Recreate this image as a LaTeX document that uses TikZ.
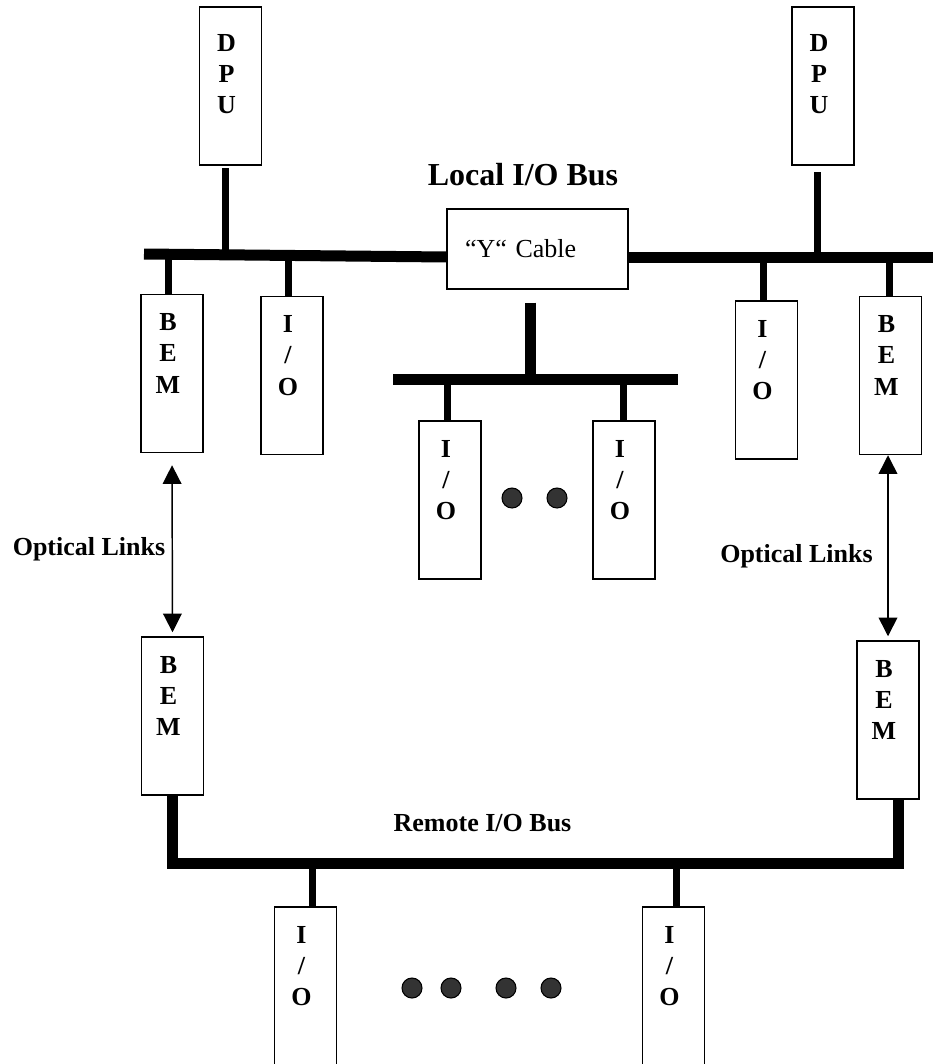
\documentclass[tikz,border=0pt]{standalone}
\usepackage{fontspec}
\setmainfont{Liberation Serif}
\usepackage{tikz}
\usetikzlibrary{arrows.meta, positioning, calc}

\begin{document}
\begin{tikzpicture}[
  x=0.75pt, y=-0.75pt,
  >={Triangle[length=14pt, width=14pt]},
  unit/.style    = {draw, line width=1.1pt, minimum width=46.5pt,
                    minimum height=118.5pt, inner sep=0pt},
  letters/.style = {font=\bfseries\fontsize{19.5}{23.5}\selectfont,
                    align=center, inner sep=0pt, anchor=north, xshift=-3pt},
  cable/.style   = {draw, line width=1.1pt, minimum height=60pt,
                    text width=108.75pt, inner xsep=13.5pt, align=left,
                    font=\fontsize{19.5}{23.5}\selectfont},
  title/.style   = {font=\bfseries\fontsize{24}{28}\selectfont},
  note/.style    = {font=\bfseries\fontsize{19.5}{23.5}\selectfont},
  bus/.style     = {line width=8.25pt},
  stub/.style    = {line width=5.25pt},
  link/.style    = {<->, line width=1.1pt},
  dot/.style     = {draw=black, fill=black!80, line width=0.8pt}
]
\useasboundingbox (0,0) rectangle (933,1064);

% processors and the "Y" cable
\node[unit, label={[letters, yshift=-20.6pt]north:{D\\P\\U}}] (dpuL) at (230.5,86) {};
\node[unit, label={[letters, yshift=-20.6pt]north:{D\\P\\U}}] (dpuR) at (823,86) {};
\node[cable] (ycable) at (537.5,249) {``Y`` Cable};
\node[title] (localbus) at (523,175) {Local I/O Bus};

\coordinate (lbusW) at (144,254);
\coordinate (lbusE) at (447,257);
\coordinate (rbusE) at (933,257.5);
\coordinate (mbusW) at (393,379);
\coordinate (mbusE) at (678,379);

% local modules
\node[unit, label={[letters, yshift=-14.6pt]north:{B\\E\\M}}] (bemUL) at (172,373.5) {};
\node[unit, label={[letters, yshift=-14.6pt]north:{I\\/\\O}}] (ioUL) at (292,375.5) {};
\node[unit, label={[letters, yshift=-14.6pt]north:{I\\/\\O}}] (ioUR) at (766.5,380) {};
\node[unit, label={[letters, yshift=-14.6pt]north:{B\\E\\M}}] (bemUR) at (890.5,375.5) {};
\node[unit, label={[letters, yshift=-14.6pt]north:{I\\/\\O}}] (ioMl) at (450,500) {};
\node[unit, label={[letters, yshift=-14.6pt]north:{I\\/\\O}}] (ioMr) at (624,500) {};

\draw[bus] (lbusW) -- (lbusE);
\draw[bus] (ycable.east |- rbusE) -- (rbusE);
\draw[bus] (mbusW) -- (mbusE);
\draw[bus, shorten <=9.75pt] ([xshift=-5.6pt]ycable.south) -- ([xshift=-5.6pt]ycable.south |- mbusW);

\draw[stub, shorten <=2pt] ([xshift=-4pt]dpuL.south) -- ([xshift=-4pt]dpuL.south |- lbusW);
\draw[stub, shorten <=5pt] ([xshift=-4.5pt]dpuR.south) -- ([xshift=-4.5pt]dpuR.south |- rbusE);
\draw[stub] ([xshift=-3pt]bemUL.north) -- ([xshift=-3pt]bemUL.north |- lbusW);
\draw[stub] ([xshift=-3pt]ioUL.north) -- ([xshift=-3pt]ioUL.north |- lbusW);
\draw[stub] ([xshift=-2pt]ioUR.north) -- ([xshift=-2pt]ioUR.north |- rbusE);
\draw[stub] ([xshift=-1pt]bemUR.north) -- ([xshift=-1pt]bemUR.north |- rbusE);
\draw[stub] ([xshift=-2.25pt]ioMl.north) -- ([xshift=-2.25pt]ioMl.north |- mbusW);
\draw[stub] ([xshift=-0.75pt]ioMr.north) -- ([xshift=-0.75pt]ioMr.north |- mbusW);

\draw[dot] (512,498) circle[radius=7.5pt];
\draw[dot] (557,498) circle[radius=7.5pt];

% optical links to the remote side
\node[unit, label={[letters, yshift=-14.6pt]north:{B\\E\\M}}] (bemLL) at (172.5,716) {};
\node[unit, label={[letters, yshift=-14.6pt]north:{B\\E\\M}}] (bemLR) at (888,720) {};

\draw[link, shorten <=9pt, shorten >=3pt] (bemUL.south) -- (bemLL.north);
\draw[link, shorten >=3pt] (bemUR.south -| bemLR.north) -- (bemLR.north);
\node[note] (linkL) at (89,549) {Optical Links};
\node[note] (linkR) at (796.5,556) {Optical Links};

% remote bus
\coordinate (rbus) at (535,863);
\node[note] (remotebus) at (482.5,823) {Remote I/O Bus};
\draw[bus] (bemLL.south) |- (rbus) -| ([xshift=7.5pt]bemLR.south);

\node[unit, minimum height=124.5pt, label={[letters, yshift=-14.6pt]north:{I\\/\\O}}] (ioBl) at (305.5,990) {};
\node[unit, minimum height=124.5pt, label={[letters, yshift=-14.6pt]north:{I\\/\\O}}] (ioBr) at (673.5,990) {};
\draw[stub] ([xshift=5.6pt]ioBl.north) -- ([xshift=5.6pt]ioBl.north |- rbus);
\draw[stub] ([xshift=1.9pt]ioBr.north) -- ([xshift=1.9pt]ioBr.north |- rbus);

\draw[dot] (412,988) circle[radius=7.5pt];
\draw[dot] (451,988) circle[radius=7.5pt];
\draw[dot] (506,988) circle[radius=7.5pt];
\draw[dot] (551,988) circle[radius=7.5pt];
\end{tikzpicture}
\end{document}
